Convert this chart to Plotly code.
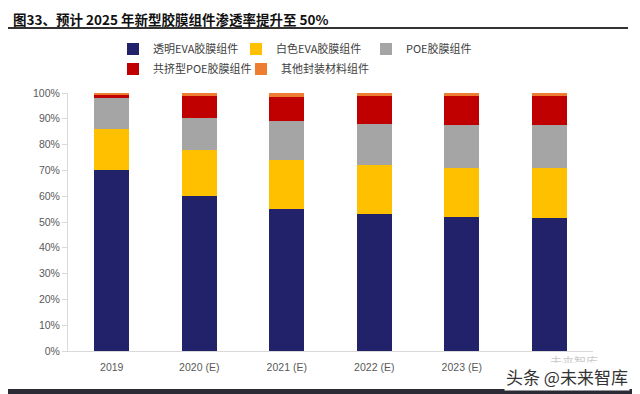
import plotly.graph_objects as go

categories = ["2019", "2020 (E)", "2021 (E)", "2022 (E)", "2023 (E)", "2024 (E)"]
series_names = ["透明EVA胶膜组件", "白色EVA胶膜组件", "POE胶膜组件", "共挤型POE胶膜组件", "其他封装材料组件"]
clear_eva = [70, 60, 55, 53, 52, 51.5]
white_eva = [16, 18, 19, 19, 19, 19.5]
poe = [12, 12.5, 15, 16, 16.5, 16.5]
coex_poe = [1.5, 8.5, 9.5, 11, 11.5, 11.5]
other = [0.5, 1, 1.5, 1, 1, 1]
colors = ["#22226a", "#ffc000", "#a5a5a5", "#c00000", "#ed7d31"]

series_values = [clear_eva, white_eva, poe, coex_poe, other]

# The page body adds an 8px margin; lay the figure out in screen coordinates.
OFF = 8
W, H = 640 - OFF, 394 - OFF
L, T = 68 - OFF, 93 - OFF
PLOT_RIGHT, PLOT_BOTTOM = 593 - OFF, 351 - OFF
R, B = W - PLOT_RIGHT, H - PLOT_BOTTOM
PW, PH = PLOT_RIGHT - L, PLOT_BOTTOM - T


def px(sx):
    return (sx - OFF - L) / PW


def py(sy):
    return (PLOT_BOTTOM - (sy - OFF)) / PH


legend_ids = ["legend", "legend2", "legend3", "legend4", "legend5"]
# (screen x of legend box, screen y of row centre)
legend_pos = [(113, 49), (236, 49), (366, 49), (113, 69), (241, 69)]

fig = go.Figure()
for name, vals, col, lid in zip(series_names, series_values, colors, legend_ids):
    fig.add_trace(go.Bar(
        x=categories, y=vals, name=name, marker_color=col,
        marker_line_width=0, width=0.4, legend=lid,
    ))

legend_layout = {}
for lid, (lx, ly) in zip(legend_ids, legend_pos):
    legend_layout[lid] = dict(
        x=px(lx), y=py(ly), xanchor="left", yanchor="middle",
        orientation="h", bgcolor="rgba(0,0,0,0)", borderwidth=0,
        font=dict(family="Noto Sans CJK SC", size=11, color="#404040"),
        itemwidth=30,
    )

fig.update_layout(
    width=W, height=H,
    barmode="stack",
    paper_bgcolor="white", plot_bgcolor="white",
    margin=dict(l=L, r=R, t=T, b=B, pad=0, autoexpand=False),
    font=dict(family="Liberation Sans, Noto Sans CJK SC", size=10, color="#595959"),
    showlegend=True,
    **legend_layout,
)

fig.update_yaxes(range=[0, 100], tickvals=list(range(0, 101, 10)),
                 ticktext=[f"{v}%" for v in range(0, 101, 10)],
                 showgrid=False, showline=True, linecolor="#d9d9d9", linewidth=1,
                 ticks="outside", ticklen=5, tickcolor="#d9d9d9", zeroline=False,
                 tickfont=dict(size=10.5, color="#595959"))
fig.update_xaxes(showgrid=False, showline=True, linecolor="#d9d9d9", linewidth=1,
                 ticks="outside", ticklen=6, tickcolor="rgba(0,0,0,0)",
                 tickfont=dict(size=10.5, color="#595959"))

fig.update_layout(
    shapes=[
        dict(type="line", xref="paper", yref="paper",
             x0=px(OFF), x1=px(628), y0=py(28), y1=py(28),
             line=dict(color="#333333", width=2)),
        dict(type="rect", xref="paper", yref="paper",
             x0=px(OFF), x1=px(640), y0=py(389), y1=py(394),
             fillcolor="#2b2b35", line=dict(width=0)),
    ],
    annotations=[
        dict(text="<b>图33、预计 2025 年新型胶膜组件渗透率提升至 50%</b>",
             xref="paper", yref="paper", x=px(12), y=py(OFF),
             xanchor="left", yanchor="top", showarrow=False, borderpad=0,
             font=dict(family="Noto Sans CJK SC", size=13.5, color="#111111")),
        dict(text="未来智库", xref="paper", yref="paper",
             x=px(600), y=py(361), xanchor="right", yanchor="middle",
             showarrow=False,
             font=dict(family="Noto Sans CJK SC", size=12, color="#c8c8c8")),
        dict(text="头条 @未来智库", xref="paper", yref="paper",
             x=px(630), y=py(376), xanchor="right", yanchor="middle",
             showarrow=False, bgcolor="white",
             font=dict(family="Noto Sans CJK SC", size=17, color="#333333")),
    ],
)

fig.write_html("out.html")
